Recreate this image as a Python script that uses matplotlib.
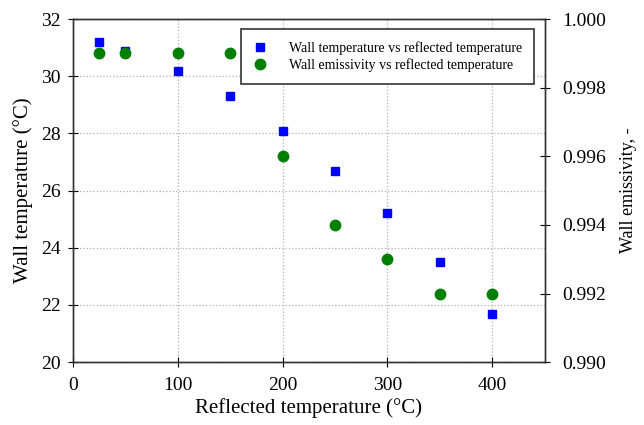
import numpy as np
import matplotlib.pyplot as plt

plt.rcParams['font.family'] = ['Liberation Serif', 'DejaVu Serif']

# reflected temperature settings (°C)
refl_temp = [25, 50, 100, 150, 200, 250, 300, 350, 400]
# measured wall temperature (°C)
wall_temp = [31.2, 30.9, 30.2, 29.3, 28.1, 26.7, 25.2, 23.5, 21.7]
# fitted wall emissivity (-)
wall_emis = [0.999, 0.999, 0.999, 0.999, 0.996, 0.994, 0.993, 0.992, 0.992]

fig = plt.figure(figsize=(6.44, 4.25), dpi=100)
ax = fig.add_axes([0.113, 0.148, 0.733, 0.807])
ax2 = ax.twinx()

h1, = ax.plot(refl_temp, wall_temp, 's', color='#0000ff', markersize=5.5,
              label='Wall temperature vs reflected temperature', zorder=3)
h2, = ax2.plot(refl_temp, wall_emis, 'o', color='#007f00', markersize=7.5,
               label='Wall emissivity vs reflected temperature', zorder=3)

ax.set_xlim(0, 450)
ax.set_ylim(20, 32)
ax2.set_ylim(0.990, 1.000)
ax.set_xticks([0, 100, 200, 300, 400])
ax.set_yticks(np.arange(20, 33, 2))
emis_ticks = np.arange(0.990, 1.0005, 0.002)
ax2.set_yticks(emis_ticks)
ax2.set_yticklabels(['%.3f' % v for v in emis_ticks])

ax.grid(True, linestyle=':', color='#b0b0b0', linewidth=0.9)
ax.set_axisbelow(True)

for a in (ax, ax2):
    a.tick_params(direction='inout', length=7, width=0.8, labelsize=14, pad=5)
    for s in a.spines.values():
        s.set_color('#333333')
        s.set_linewidth(1.0)
ax.tick_params(axis='x', pad=7)
ax2.tick_params(axis='y', pad=9)

ax.set_xlabel('Reflected temperature (°C)', fontsize=15, labelpad=3)
ax.set_ylabel('Wall temperature (°C)', fontsize=15, labelpad=6)
ax2.set_ylabel('Wall emissivity, -', fontsize=13, labelpad=10)

leg = ax2.legend(handles=[h1, h2], loc='upper right', bbox_to_anchor=(0.992, 0.99),
                 fontsize=10, frameon=True, fancybox=False, framealpha=1,
                 edgecolor='#333333', handletextpad=1.6, borderpad=0.85,
                 labelspacing=0.25, handlelength=1.0)
leg.get_frame().set_linewidth(1.2)

fig.savefig('out.png', dpi=100)
